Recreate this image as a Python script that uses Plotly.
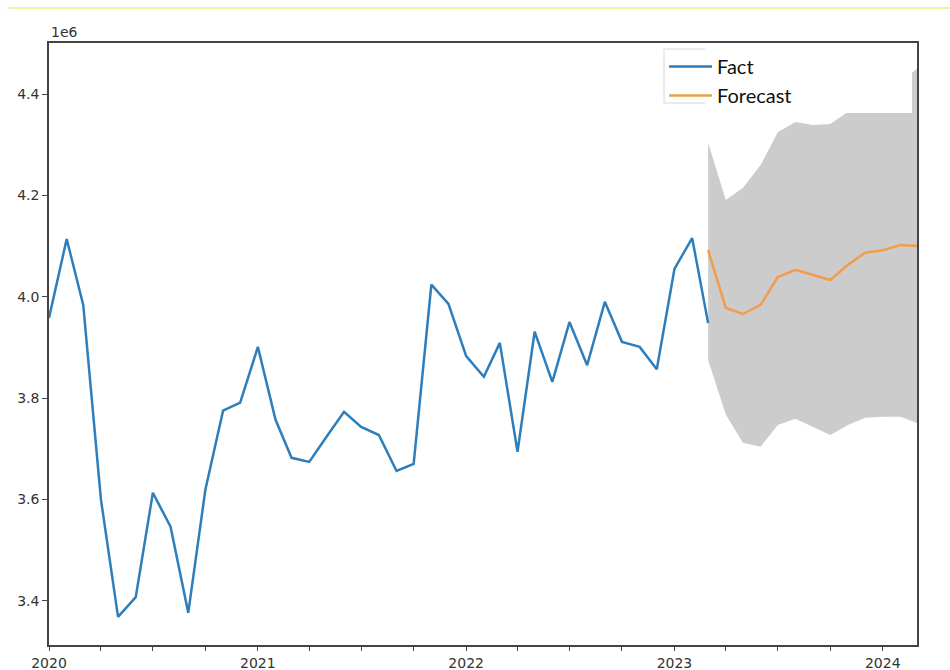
import pandas as pd
import plotly.graph_objects as go

# ---- data (values in millions, axis offset label "1e6") ----
fact_dates = pd.date_range("2020-01-01", periods=39, freq="MS")
fact_values = [3.958, 4.114, 3.984, 3.600, 3.368, 3.407, 3.613, 3.546, 3.376, 3.619,
               3.775, 3.791, 3.901, 3.757, 3.682, 3.674, 3.723, 3.773, 3.743, 3.727,
               3.656, 3.670, 4.024, 3.986, 3.883, 3.842, 3.909, 3.694, 3.931, 3.832,
               3.950, 3.865, 3.990, 3.911, 3.901, 3.857, 4.055, 4.116, 3.948]

fc_dates = pd.date_range("2023-03-01", periods=13, freq="MS")
fc_values = [4.092, 3.978, 3.966, 3.984, 4.039, 4.053, 4.043, 4.033, 4.063, 4.087,
             4.092, 4.102, 4.100]
fc_lower = [3.875, 3.767, 3.712, 3.704, 3.747, 3.759, 3.743, 3.727, 3.747, 3.761,
            3.763, 3.763, 3.751]
fc_upper = [4.304, 4.191, 4.215, 4.260, 4.325, 4.345, 4.339, 4.341, 4.365, 4.385,
            4.405, 4.425, 4.450]

y_ticks = [3.4, 3.6, 3.8, 4.0, 4.2, 4.4]
x_ticks = ["2020-01-01", "2021-01-01", "2022-01-01", "2023-01-01", "2024-01-01"]
x_labels = ["2020", "2021", "2022", "2023", "2024"]

BLUE = "#2e7ebc"
ORANGE = "#f29d4b"
BAND = "#cccccc"
AX = "#444444"

fig = go.Figure()
fig.add_trace(go.Scatter(x=fc_dates, y=fc_lower, mode="lines", line=dict(width=0),
                         showlegend=False, hoverinfo="skip"))
fig.add_trace(go.Scatter(x=fc_dates, y=fc_upper, mode="lines", line=dict(width=0),
                         fill="tonexty", fillcolor=BAND, showlegend=False, hoverinfo="skip"))
fig.add_trace(go.Scatter(x=fact_dates, y=fact_values, mode="lines", name="Fact",
                         line=dict(color=BLUE, width=2.5)))
fig.add_trace(go.Scatter(x=fc_dates, y=fc_values, mode="lines", name="Forecast",
                         line=dict(color=ORANGE, width=2.5)))

L, R, T, B = 49, 33, 43, 25
W, H = 950, 670
pw, ph = W - L - R, H - T - B


def px(x):
    return (x - L) / pw


def py(y):
    return (H - B - y) / ph


fig.update_layout(
    width=W, height=H,
    margin=dict(l=L, r=R, t=T, b=B, autoexpand=False),
    paper_bgcolor="white", plot_bgcolor="white",
    font=dict(family="DejaVu Sans", color="#333333"),
    showlegend=True,
    legend=dict(x=px(664), y=py(47), xanchor="left", yanchor="top",
                bgcolor="rgba(0,0,0,0)", borderwidth=0, traceorder="normal",
                font=dict(family="Lato", size=20, color="#111111"),
                itemwidth=43, tracegroupgap=0),
    xaxis=dict(range=["2020-01-01", "2024-03-01"], type="date",
               tickvals=x_ticks, ticktext=x_labels,
               ticks="outside", ticklen=4, tickwidth=1, tickcolor=AX,
               tickfont=dict(size=14, color="#333333"),
               showline=True, linecolor=AX, linewidth=1.5, mirror=True,
               showgrid=False, zeroline=False, automargin=False,
               minor=dict(dtick="M3", tick0="2020-01-01", ticks="outside",
                          ticklen=4, tickcolor=AX, showgrid=False)),
    yaxis=dict(range=[3.3125, 4.501], tickvals=y_ticks,
               ticktext=[f"{v:.1f}" for v in y_ticks],
               ticks="outside", ticklen=5, tickwidth=1, tickcolor=AX,
               tickfont=dict(size=14, color="#333333"),
               showline=True, linecolor=AX, linewidth=1.5, mirror=True,
               showgrid=False, zeroline=False, automargin=False),
    annotations=[dict(text="1e6", x=0, y=1, xref="paper", yref="paper",
                      xanchor="left", yanchor="bottom", showarrow=False,
                      yshift=1, font=dict(size=14, color="#333333"))],
    shapes=[
        # thin yellow rule at the top of the image
        dict(type="line", xref="paper", yref="paper", x0=px(7), x1=px(950),
             y0=py(8), y1=py(8), line=dict(color="#eeee88", width=1.5)),
        # legend frame (left part) and white cover box
        dict(type="rect", xref="paper", yref="paper", x0=px(664), x1=px(715),
             y0=py(103), y1=py(49), line=dict(color="#d6d6d6", width=1),
             fillcolor="white", layer="above"),
        dict(type="rect", xref="paper", yref="paper", x0=px(705), x1=px(912),
             y0=py(113), y1=py(45), line=dict(width=0),
             fillcolor="white", layer="above"),
    ],
)

fig.write_html("out.html")
